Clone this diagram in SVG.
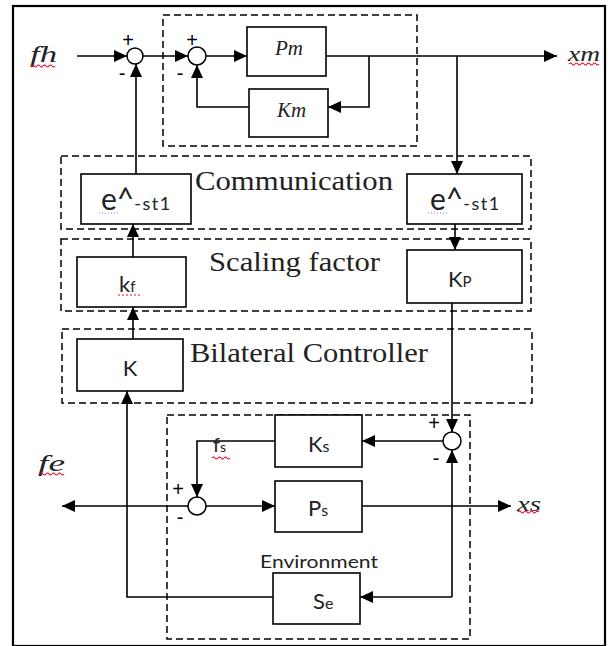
<svg xmlns="http://www.w3.org/2000/svg" width="608" height="646" viewBox="0 0 608 646">
<style>
.frame{fill:#fff;stroke:#000;stroke-width:2.2}
.grp{fill:none;stroke:#000;stroke-width:1.5;stroke-dasharray:7 4}
.blk{fill:#fff;stroke:#000;stroke-width:1.6}
.sum{fill:#fff;stroke:#000;stroke-width:1.5}
.ln{fill:none;stroke:#000;stroke-width:1.6}
.arr{marker-end:url(#ah)}
.ser{font-family:"Liberation Serif","Times New Roman",serif;fill:#222}
.ita{font-family:"Liberation Serif","Times New Roman",serif;font-style:italic;fill:#222}
.sans{font-family:Lato,"Liberation Sans",sans-serif;fill:#222}
.sign{font-family:"Liberation Sans",Arial,sans-serif;fill:#000;font-size:20px;text-anchor:middle}
.wave{fill:none;stroke:#e01030;stroke-width:1.2}
</style>
<defs>
<marker id="ah" markerUnits="userSpaceOnUse" markerWidth="13" markerHeight="12" viewBox="0 0 13 12" refX="13" refY="6" orient="auto">
<path d="M0,0 L13,6 L0,12 z" fill="#000"/>
</marker>
</defs>
<rect class="frame" x="13" y="6" width="592" height="640"/>

<g id="groups">
<rect class="grp" x="163" y="15" width="254" height="131"/>
<rect class="grp" x="61" y="156" width="470" height="73"/>
<rect class="grp" x="61" y="239" width="470" height="72"/>
<rect class="grp" x="62" y="329" width="470" height="74"/>
<rect class="grp" x="167" y="415" width="303" height="224"/>
<text class="ser" x="195" y="190" font-size="28" textLength="198" lengthAdjust="spacingAndGlyphs">Communication</text>
<text class="ser" x="209" y="271" font-size="28" textLength="171" lengthAdjust="spacingAndGlyphs">Scaling factor</text>
<text class="ser" x="190" y="362" font-size="28" textLength="238" lengthAdjust="spacingAndGlyphs">Bilateral Controller</text>
<text class="sans" x="260" y="568" font-size="18" textLength="118" lengthAdjust="spacingAndGlyphs">Environment</text>
</g>

<g id="connectors">
<path class="ln arr" d="M77,56 H127"/>
<path class="ln arr" d="M143,56 H188"/>
<path class="ln arr" d="M206,56 H247"/>
<path class="ln arr" d="M326,56 H557"/>
<path class="ln arr" d="M369,56 V107 H328"/>
<path class="ln arr" d="M249,107 H197 V65"/>
<path class="ln arr" d="M457,56 V174"/>
<path class="ln arr" d="M136,174 V64"/>
<path class="ln arr" d="M455,224 V250"/>
<path class="ln arr" d="M133,257 V224"/>
<path class="ln arr" d="M133,339 V307"/>
<path class="ln arr" d="M452,303 V432"/>
<path class="ln arr" d="M443,441 H362"/>
<path class="ln arr" d="M275,441 H197 V497"/>
<path class="ln arr" d="M206,506 H275"/>
<path class="ln arr" d="M188,506 H62"/>
<path class="ln arr" d="M362,506 H511"/>
<path class="ln arr" d="M273,597 H127 V391"/>
<path class="ln arr" d="M452,597 V450"/>
<path class="ln arr" d="M452,597 H360"/>
</g>

<g id="sum1">
<circle class="sum" cx="135" cy="56" r="8"/>
<text class="sign" x="128" y="47">+</text>
<text class="sign" x="122" y="80">-</text>
</g>
<g id="sum2">
<circle class="sum" cx="197" cy="56" r="9"/>
<text class="sign" x="192" y="47">+</text>
<text class="sign" x="180" y="80">-</text>
</g>
<g id="sum3">
<circle class="sum" cx="452" cy="441" r="9"/>
<text class="sign" x="434" y="430">+</text>
<text class="sign" x="436" y="465">-</text>
</g>
<g id="sum4">
<circle class="sum" cx="197" cy="506" r="9"/>
<text class="sign" x="178" y="496">+</text>
<text class="sign" x="180" y="524">-</text>
</g>

<g id="Pm">
<rect class="blk" x="247" y="27" width="79" height="49"/>
<text class="ita" x="275" y="55" font-size="21">Pm</text>
</g>
<g id="Km">
<rect class="blk" x="249" y="89" width="79" height="48"/>
<text class="ita" x="277" y="117" font-size="21">Km</text>
</g>
<g id="delayLeft">
<rect class="blk" x="81" y="174" width="110" height="50"/>
<text class="sans" x="101" y="210" font-size="30">e^<tspan font-size="18" letter-spacing="1.5">-st1</tspan></text>
</g>
<g id="delayRight">
<rect class="blk" x="407" y="174" width="115" height="50"/>
<text class="sans" x="430" y="210" font-size="30">e^<tspan font-size="18" letter-spacing="1.5">-st1</tspan></text>
</g>
<g id="kf">
<rect class="blk" x="77" y="257" width="109" height="50"/>
<text class="sans" x="119" y="292" font-size="22">k<tspan font-size="15">f</tspan></text>
</g>
<g id="Kp">
<rect class="blk" x="407" y="250" width="115" height="53"/>
<text class="sans" x="448" y="287" font-size="22">K<tspan font-size="15">P</tspan></text>
</g>
<g id="K">
<rect class="blk" x="77" y="339" width="106" height="52"/>
<text class="sans" x="130" y="376" font-size="22" text-anchor="middle">K</text>
</g>
<g id="Ks">
<rect class="blk" x="275" y="415" width="87" height="52"/>
<text class="sans" x="308" y="452" font-size="22">K<tspan font-size="16">s</tspan></text>
</g>
<g id="Ps">
<rect class="blk" x="275" y="481" width="87" height="51"/>
<text class="sans" x="308" y="516" font-size="22">P<tspan font-size="16">s</tspan></text>
</g>
<g id="Se">
<rect class="blk" x="273" y="573" width="87" height="51"/>
<text class="sans" x="313" y="609" font-size="22">S<tspan font-size="16">e</tspan></text>
</g>

<g id="signals">
<text class="ita" x="30" y="62" font-size="24" textLength="27" lengthAdjust="spacingAndGlyphs">fh</text>
<text class="ita" x="568" y="61" font-size="22" textLength="32" lengthAdjust="spacingAndGlyphs">xm</text>
<text class="ita" x="38" y="471" font-size="24" textLength="27" lengthAdjust="spacingAndGlyphs">fe</text>
<text class="ita" x="517" y="511" font-size="22" textLength="24" lengthAdjust="spacingAndGlyphs">xs</text>
<text class="sans" x="213" y="452" font-size="20">f<tspan font-size="14">s</tspan></text>
</g>

<g id="spellmarks">
<path class="wave" d="M31,66 q1.5,-2 3,0 t3,0 t3,0 t3,0 t3,0 t3,0 t3,0 t3,0"/>
<path class="wave" d="M569,64 q1.5,-2 3,0 t3,0 t3,0 t3,0 t3,0 t3,0 t3,0 t3,0 t3,0 t3,0"/>
<path class="wave" d="M40,474 q1.5,-2 3,0 t3,0 t3,0 t3,0 t3,0 t3,0 t3,0 t3,0"/>
<path class="wave" d="M518,512 q1.5,-2 3,0 t3,0 t3,0 t3,0 t3,0 t3,0 t3,0"/>
<path class="wave" d="M212,458 q1.5,-2 3,0 t3,0 t3,0 t3,0 t3,0 t3,0"/>
<path class="wave" d="M118,295 H140" stroke-dasharray="2 2"/>
<path d="M99,213 H118" fill="none" stroke="#8080e0" stroke-width="1" stroke-dasharray="1 2"/>
<path d="M428,213 H447" fill="none" stroke="#8080e0" stroke-width="1" stroke-dasharray="1 2"/>
</g>
</svg>
